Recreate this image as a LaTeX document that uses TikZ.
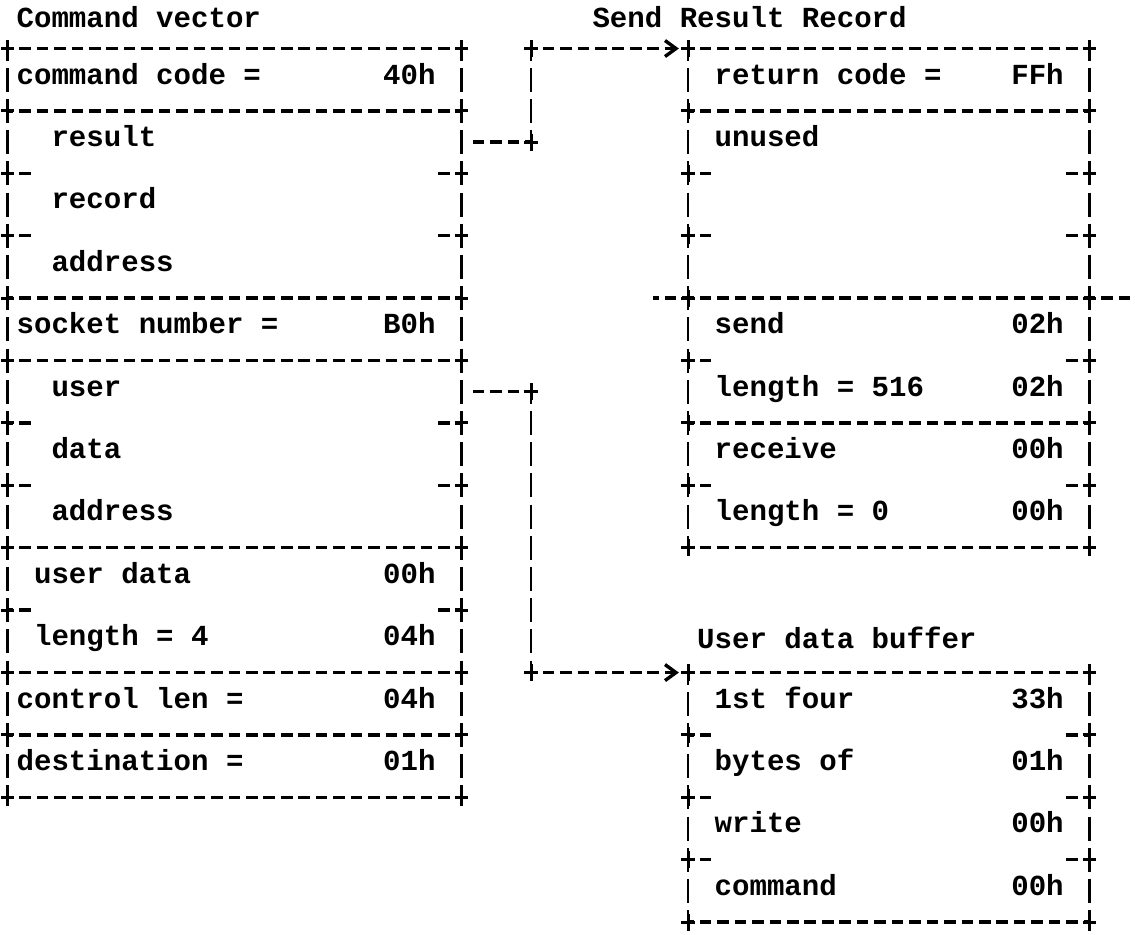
\documentclass[tikz,border=0pt]{standalone}
\usepackage{fontspec}
\setmonofont{Liberation Mono}
\usetikzlibrary{arrows.meta}
\newcommand{\colw}{8.725pt}
\newcommand{\rowh}{15.6pt}
\tikzset{pics/plusmark/.style={code={\draw[line width=1.5pt] (-0.38,0) -- (0.38,0) (0,-0.27) -- (0,0.27);}}}

\begin{document}
\begin{tikzpicture}[
  x=\colw, y=-\rowh,
  font=\ttfamily\bfseries\fontsize{14.54}{18}\selectfont,
  fld/.style={anchor=mid west, inner sep=0pt},
  recbox/.style={rectangle, inner sep=0pt, outer sep=0pt},
  hrule/.style={line width=1.7pt, dash pattern=on 5.8pt off 2.925pt, dash phase=2.9pt},
  vrule/.style={line width=1.4pt, dash pattern=on 12pt off 3.6pt, dash phase=7.95pt, shorten <=1.95pt, shorten >=1.95pt},
  tip/.style={-{Straight Barb[length=5.5pt,width=8pt]}, shorten >=4.6pt}
]
\useasboundingbox (-0.43,-0.555) rectangle (64.61,29.41);

% records
\node[recbox, minimum width=26*\colw, minimum height=24*\rowh] (cv) at (13,13) {};
\node[recbox, minimum width=23*\colw, minimum height=16*\rowh] (srr) at (50.5,9) {};
\node[recbox, minimum width=23*\colw, minimum height=8*\rowh] (udb) at (50.5,25) {};

\node[fld] (cvtitle) at (0.5,0.2) {Command vector};
\node[fld] (srrtitle) at (33.5,0.2) {Send Result Record};
\node[fld] (udbtitle) at (39.5,20.1) {User data buffer};

% command vector fields
\node[fld] (cmdcode) at (0.5,2) {command code =};
\node[fld] (cmdcodev) at (21.5,2) {40h};
\node[fld] (result) at (2.5,4) {result};
\node[fld] (record) at (2.5,6) {record};
\node[fld] (resaddr) at (2.5,8) {address};
\node[fld] (socket) at (0.5,10) {socket number =};
\node[fld] (socketv) at (21.5,10) {B0h};
\node[fld] (user) at (2.5,12) {user};
\node[fld] (data) at (2.5,14) {data};
\node[fld] (dataaddr) at (2.5,16) {address};
\node[fld] (udata) at (1.5,18) {user data};
\node[fld] (udatav) at (21.5,18) {00h};
\node[fld] (ulen) at (1.5,20) {length = 4};
\node[fld] (ulenv) at (21.5,20) {04h};
\node[fld] (ctllen) at (0.5,22) {control len =};
\node[fld] (ctllenv) at (21.5,22) {04h};
\node[fld] (dest) at (0.5,24) {destination =};
\node[fld] (destv) at (21.5,24) {01h};

% send result record fields
\node[fld] (retcode) at (40.5,2) {return code =};
\node[fld] (retcodev) at (57.5,2) {FFh};
\node[fld] (unused) at (40.5,4) {unused};
\node[fld] (send) at (40.5,10) {send};
\node[fld] (sendv) at (57.5,10) {02h};
\node[fld] (slen) at (40.5,12) {length = 516};
\node[fld] (slenv) at (57.5,12) {02h};
\node[fld] (recv) at (40.5,14) {receive};
\node[fld] (recvv) at (57.5,14) {00h};
\node[fld] (rlen) at (40.5,16) {length = 0};
\node[fld] (rlenv) at (57.5,16) {00h};

% user data buffer fields
\node[fld] (four) at (40.5,22) {1st four};
\node[fld] (fourv) at (57.5,22) {33h};
\node[fld] (bytesof) at (40.5,24) {bytes of};
\node[fld] (bytesofv) at (57.5,24) {01h};
\node[fld] (write) at (40.5,26) {write};
\node[fld] (writev) at (57.5,26) {00h};
\node[fld] (command) at (40.5,28) {command};
\node[fld] (commandv) at (57.5,28) {00h};

% borders
\foreach \b in {cv,srr,udb} {
  \draw[vrule] (\b.north west) -- (\b.south west);
  \draw[vrule] (\b.north east) -- (\b.south east);
}
\foreach \r in {1,3,9,11,17,21,23,25}
  \draw[hrule] (cv.west |- 0,\r) -- (cv.east |- 0,\r);
\foreach \r in {5,7,13,15,19}
  \draw[hrule] (cv.west |- 0,\r) -- ++(1.45,0) (cv.east |- 0,\r) -- ++(-1.45,0);
\foreach \r in {1,3,...,25} {
  \pic at (cv.west |- 0,\r) {plusmark};
  \pic at (cv.east |- 0,\r) {plusmark};
}
\foreach \r in {1,3,13,17}
  \draw[hrule] (srr.west |- 0,\r) -- (srr.east |- 0,\r);
\draw[hrule] (srr.west |- 0,9) ++(-2,0) -- ++(28,0);
\foreach \r in {5,7,11,15}
  \draw[hrule] (srr.west |- 0,\r) -- ++(1.45,0) (srr.east |- 0,\r) -- ++(-1.45,0);
\foreach \r in {1,3,...,17} {
  \pic at (srr.west |- 0,\r) {plusmark};
  \pic at (srr.east |- 0,\r) {plusmark};
}
\foreach \r in {21,29}
  \draw[hrule] (udb.west |- 0,\r) -- (udb.east |- 0,\r);
\foreach \r in {23,25,27}
  \draw[hrule] (udb.west |- 0,\r) -- ++(1.45,0) (udb.east |- 0,\r) -- ++(-1.45,0);
\foreach \r in {21,23,...,29} {
  \pic at (udb.west |- 0,\r) {plusmark};
  \pic at (udb.east |- 0,\r) {plusmark};
}

% pointers
\coordinate (j1) at (30,1);
\coordinate (j2) at (30,4);
\coordinate (j3) at (30,12);
\coordinate (j4) at (30,21);
\draw[hrule, shorten >=3.4pt] (j2) -- (cv.east |- result.mid);
\draw[vrule] (j2) -- (j1);
\draw[hrule, tip] (j1) -- (srr.north west);
\draw[hrule, shorten >=3.4pt] (j3) -- (cv.east |- user.mid);
\draw[vrule] (j3) -- (j4);
\draw[hrule, tip] (j4) -- (udb.north west);
\foreach \j in {j1,j2,j3,j4}
  \pic at (\j) {plusmark};
\end{tikzpicture}
\end{document}
